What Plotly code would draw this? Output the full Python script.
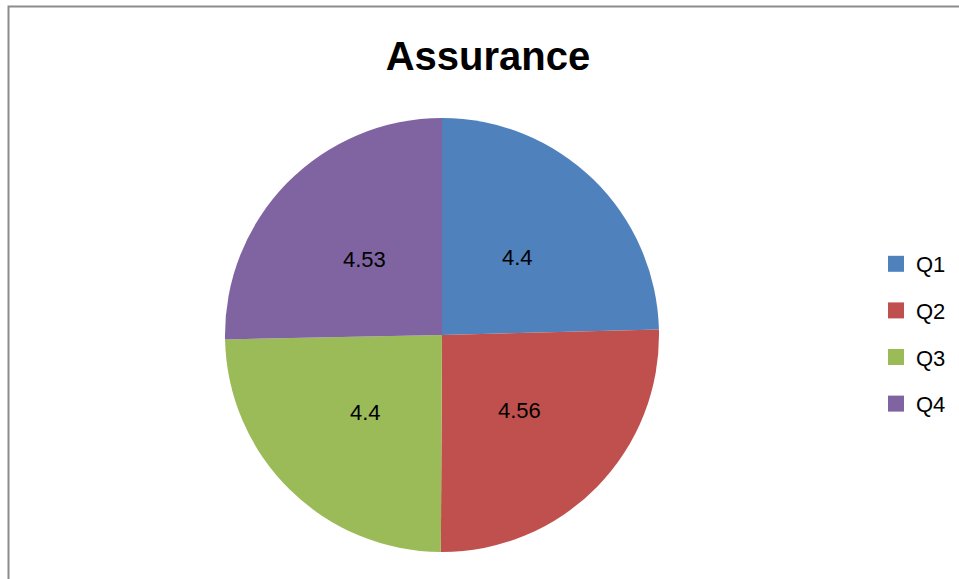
import math
import plotly.graph_objects as go

# Assurance scores per quarter
categories = ["Q1", "Q2", "Q3", "Q4"]
scores = [4.4, 4.56, 4.4, 4.53]
label_text = ["4.4", "4.56", "4.4", "4.53"]
colors = ["#4F81BD", "#C0504D", "#9BBB59", "#8064A2"]

W, H = 959, 579
FONT = "Liberation Sans, Arial, sans-serif"

# pie area in pixels: centre and radius
cx, cy, r = 442, 335, 217

fig = go.Figure()
fig.add_trace(go.Pie(
    labels=categories,
    values=scores,
    textinfo="none",
    marker=dict(colors=colors, line=dict(width=0)),
    sort=False,
    direction="clockwise",
    rotation=0,
    showlegend=False,
    domain=dict(x=[(cx - r) / W, (cx + r) / W], y=[1 - (cy + r) / H, 1 - (cy - r) / H]),
))

# value labels at half radius along each slice's mid angle
total = sum(scores)
annotations = []
cum = 0.0
for val, txt in zip(scores, label_text):
    mid = (cum + val / 2) / total * 2 * math.pi
    cum += val
    px = cx + 0.5 * r * math.sin(mid)
    py = cy - 0.5 * r * math.cos(mid)
    annotations.append(dict(x=px / W, y=1 - py / H, xref="paper", yref="paper",
                            text=txt, showarrow=False, xanchor="center", yanchor="middle",
                            font=dict(family=FONT, size=22, color="#000000")))

# legend entries as square markers, one group each for row spacing
for name, col in zip(categories, colors):
    fig.add_trace(go.Scatter(
        x=[None], y=[None], mode="markers", name=name,
        marker=dict(symbol="square", size=16, color=col),
        legendgroup=name, showlegend=True,
    ))

fig.update_layout(
    width=W, height=H,
    margin=dict(l=0, r=0, t=0, b=0),
    paper_bgcolor="white", plot_bgcolor="white",
    xaxis=dict(visible=False), yaxis=dict(visible=False),
    title=dict(text="<b>Assurance</b>", x=488 / W, xanchor="center", y=1 - 56 / H, yanchor="middle",
               font=dict(family=FONT, size=40, color="#000000")),
    legend=dict(x=876 / W, y=1 - 243 / H, xanchor="left", yanchor="top",
                font=dict(family=FONT, size=22, color="#000000"),
                tracegroupgap=15, bgcolor="rgba(0,0,0,0)", itemclick=False),
    annotations=annotations,
    shapes=[dict(type="rect", xref="paper", yref="paper",
                 x0=8.5 / W, x1=1.02, y0=-0.02, y1=1 - 6.5 / H,
                 line=dict(color="#8C8C8C", width=2), fillcolor="rgba(0,0,0,0)", layer="below")],
)

fig.write_html("out.html")
